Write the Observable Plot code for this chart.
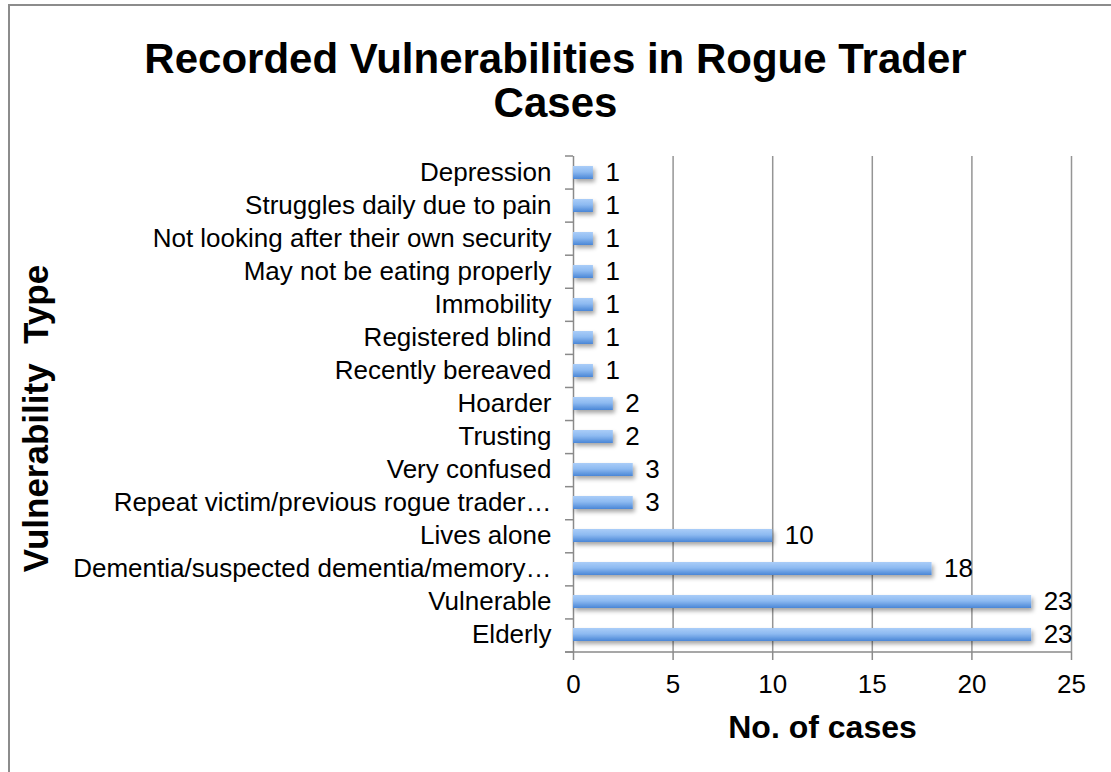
<!DOCTYPE html>
<html>
<head>
<meta charset="utf-8">
<script src="https://cdn.jsdelivr.net/npm/d3@7"></script>
<script src="https://cdn.jsdelivr.net/npm/@observablehq/plot@0.6"></script>
<style>
  html, body { margin: 0; padding: 0; background: #fff; overflow: hidden; }
  #page { position: relative; width: 1111px; height: 772px; overflow: hidden; }
  #title { position: absolute; left: 0; top: 37px; width: 1111px; text-align: center;
           font: bold 42px "Liberation Sans", Arial, sans-serif; line-height: 44px; color: #000; }
  #chart { position: absolute; left: 0; top: 0; }
</style>
</head>
<body>
<div id="page">
  <div id="chart"></div>
  <div id="title">Recorded Vulnerabilities in Rogue Trader<br>Cases</div>
</div>
<script>
// Vulnerability types, top to bottom
const categories = [
  "Depression",
  "Struggles daily due to pain",
  "Not looking after their own security",
  "May not be eating properly",
  "Immobility",
  "Registered blind",
  "Recently bereaved",
  "Hoarder",
  "Trusting",
  "Very confused",
  "Repeat victim/previous rogue trader…",
  "Lives alone",
  "Dementia/suspected dementia/memory…",
  "Vulnerable",
  "Elderly"
];
// Number of cases for each type
const cases = [1, 1, 1, 1, 1, 1, 1, 2, 2, 3, 3, 10, 18, 23, 23];
// Ticks on the case-count axis
const xTicks = [0, 5, 10, 15, 20, 25];

const data = categories.map((category, i) => ({category, cases: cases[i]}));

const axisGray = "#8a8a8a";

const chart = Plot.plot({
  width: 1111,
  height: 772,
  marginLeft: 573,
  marginRight: 40,
  marginTop: 156,
  marginBottom: 120,
  style: {fontFamily: "'Liberation Sans', Arial, sans-serif", fontSize: "26px", color: "#000", background: "transparent"},
  x: {domain: [0, 25]},
  y: {domain: categories, paddingInner: 0.6, paddingOuter: 0.3},
  marks: [
    Plot.ruleX(xTicks.slice(1), {stroke: "#959595", strokeWidth: 1.5}),
    Plot.ruleX([0], {stroke: axisGray, strokeWidth: 1.5}),
    Plot.barX(data, {x: "cases", y: "category", fill: "url(#barFill)"}),
    Plot.text(data, {x: "cases", y: "category", text: d => String(d.cases), textAnchor: "start", dx: 12, fill: "#000"}),
    Plot.axisX({ticks: xTicks, tickSize: 8, tickPadding: 14, stroke: axisGray, strokeWidth: 1.5, fill: "#000", label: null}),
    Plot.axisY({tickSize: 0, tickPadding: 22, fill: "#000", label: null}),
    Plot.text(["No. of cases"], {frameAnchor: "bottom", dy: 85, fontWeight: "bold", fontSize: 32, fill: "#000"}),
    Plot.text(["Vulnerability\u00a0 Type"], {frameAnchor: "left", textAnchor: "middle", rotate: -90, dx: -537, dy: 14, fontWeight: "bold", fontSize: 35, fill: "#000"})
  ]
});

document.getElementById("chart").appendChild(chart);

// Gradient fill and soft shadow for the bars
const svg = d3.select(chart);
svg.insert("defs", ":first-child").html(`
  <linearGradient id="barFill" x1="0" y1="0" x2="0" y2="1">
    <stop offset="0" stop-color="#aacdf8"/>
    <stop offset="0.45" stop-color="#8dbaf1"/>
    <stop offset="1" stop-color="#4a86d6"/>
  </linearGradient>
  <filter id="barShadow" x="-5%" y="-50%" width="115%" height="250%">
    <feDropShadow dx="2" dy="3" stdDeviation="2" flood-color="#000" flood-opacity="0.35"/>
  </filter>`);
svg.selectAll('g[aria-label="bar"]').attr("filter", "url(#barShadow)");

// Outer chart-area border: top and left edges
svg.append("path")
  .attr("d", "M9,772V5H1111")
  .attr("fill", "none")
  .attr("stroke", "#8c8c8c")
  .attr("stroke-width", 2);

// Category-boundary ticks on the vertical axis, and the baseline
const xs = chart.scale("x");
const ys = chart.scale("y");
const [r0, r1] = ys.range;
const n = categories.length;
const x0 = xs.apply(0);
const g = svg.append("g").attr("stroke", axisGray).attr("stroke-width", 1.5);
d3.range(n + 1).forEach(i => {
  const yy = r0 + (r1 - r0) * i / n;
  g.append("line").attr("x1", x0 - 8).attr("x2", x0).attr("y1", yy).attr("y2", yy);
});
g.append("line").attr("x1", x0 - 8).attr("x2", xs.apply(25)).attr("y1", r1).attr("y2", r1);
svg.selectAll("text").style("white-space", "pre");
</script>
</body>
</html>
